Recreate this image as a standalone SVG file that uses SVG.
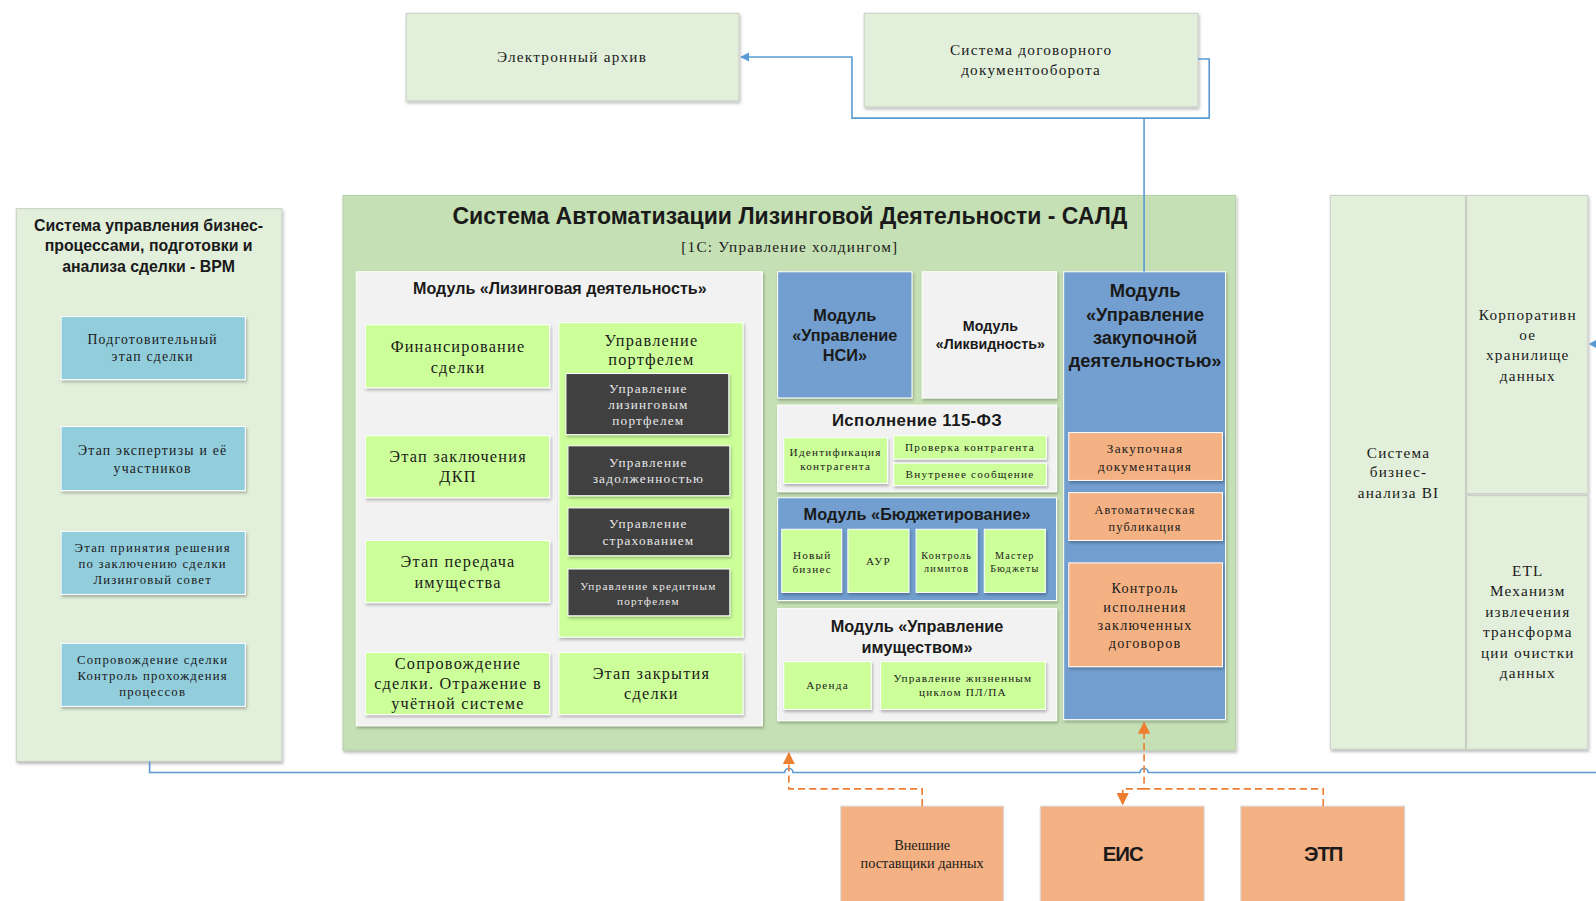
<svg xmlns="http://www.w3.org/2000/svg" width="1596" height="901" viewBox="0 0 1596 901">
<defs>
<filter id="sh" x="-10%" y="-10%" width="130%" height="130%">
<feDropShadow dx="1" dy="2" stdDeviation="1.5" flood-color="#000" flood-opacity="0.28"/>
</filter>
<marker id="ab" viewBox="0 0 10 10" refX="9" refY="5" markerWidth="9" markerHeight="9" markerUnits="userSpaceOnUse" orient="auto">
<path d="M0,0 L10,5 L0,10 z" fill="#5b9bd5"/>
</marker>
<marker id="ao" viewBox="0 0 10 10" refX="9" refY="5" markerWidth="12" markerHeight="12" markerUnits="userSpaceOnUse" orient="auto">
<path d="M0,0 L10,5 L0,10 z" fill="#ed7d31"/>
</marker>
<style>
.pale{fill:#e2efda;stroke:#c9cfc5;stroke-width:1;filter:url(#sh)}
.sald{fill:#c5e0b4;stroke:#b8cfa8;stroke-width:1;filter:url(#sh)}
.gray{fill:#f2f2f2;stroke:#ffffff;stroke-width:1;filter:url(#sh)}
.blue{fill:#729fcf;stroke:#ffffff;stroke-width:1;filter:url(#sh)}
.lime{fill:#ccff99;stroke:#ffffff;stroke-width:1;filter:url(#sh)}
.cyan{fill:#92cddc;stroke:#ffffff;stroke-width:1;filter:url(#sh)}
.dark{fill:#404040;stroke:#ffffff;stroke-width:1;filter:url(#sh)}
.org{fill:#f4b183;stroke:#ffffff;stroke-width:1;filter:url(#sh)}
.orgb{fill:#f4b183;stroke:#d9d9d9;stroke-width:1}
text{text-anchor:middle;fill:#1a1a1a}
.s{font-family:"Liberation Serif","DejaVu Serif",serif;letter-spacing:1.2px}
.b{font-family:"Liberation Sans","DejaVu Sans",sans-serif;font-weight:bold}
.w{fill:#e8e8e8}
.cb{fill:none;stroke:#5b9bd5;stroke-width:1.6}
.co{fill:none;stroke:#ed7d31;stroke-width:1.6;stroke-dasharray:7,4}
</style>
</defs>
<rect width="1596" height="901" fill="#ffffff"/>
<g transform="scale(1.01786)">

<g id="archive">
<rect class="pale" x="399" y="13" width="327" height="86"/>
<text class="s" x="562" y="61" font-size="15" letter-spacing="1.8">Электронный архив</text>
</g>
<g id="sdd">
<rect class="pale" x="849" y="13" width="328" height="92"/>
<text class="s" x="1013" y="54" font-size="15">Система договорного</text>
<text class="s" x="1013" y="74" font-size="15">документооборота</text>
</g>

<g id="bpm">
<rect class="pale" x="16" y="205" width="261" height="543"/>
<text class="b" x="146" y="227" font-size="15.6">Система управления бизнес-</text>
<text class="b" x="146" y="247" font-size="15.6">процессами, подготовки и</text>
<text class="b" x="146" y="267" font-size="15.6">анализа сделки - BPM</text>
<g id="bpm1"><rect class="cyan" x="60" y="311" width="181" height="62"/>
<text class="s" x="150" y="338" font-size="13.5">Подготовительный</text>
<text class="s" x="150" y="355" font-size="13.5">этап сделки</text></g>
<g id="bpm2"><rect class="cyan" x="60" y="419" width="181" height="63"/>
<text class="s" x="150" y="447" font-size="13.5">Этап экспертизы и её</text>
<text class="s" x="150" y="465" font-size="13.5">участников</text></g>
<g id="bpm3"><rect class="cyan" x="60" y="522" width="181" height="62"/>
<text class="s" x="150" y="542" font-size="12.5">Этап принятия решения</text>
<text class="s" x="150" y="558" font-size="12.5">по заключению сделки</text>
<text class="s" x="150" y="574" font-size="12.5">Лизинговый совет</text></g>
<g id="bpm4"><rect class="cyan" x="60" y="632" width="181" height="62"/>
<text class="s" x="150" y="652" font-size="12.5">Сопровождение сделки</text>
<text class="s" x="150" y="668" font-size="12.5">Контроль прохождения</text>
<text class="s" x="150" y="684" font-size="12.5">процессов</text></g>
</g>

<g id="sald">
<rect class="sald" x="337" y="192" width="877" height="545"/>
<text class="b" x="776" y="220" font-size="22.6">Система Автоматизации Лизинговой Деятельности - САЛД</text>
<text class="s" x="776" y="248" font-size="15">[1С: Управление холдингом]</text>
</g>

<g id="leasing">
<rect class="gray" x="350" y="267" width="399" height="446"/>
<text class="b" x="550" y="289" font-size="15.8">Модуль «Лизинговая деятельность»</text>
<g id="fin"><rect class="lime" x="359" y="319" width="181" height="62"/>
<text class="s" x="450" y="346" font-size="16">Финансирование</text>
<text class="s" x="450" y="366" font-size="16">сделки</text></g>
<g id="portfolio"><rect class="lime" x="549" y="317" width="181" height="309"/>
<text class="s" x="640" y="340" font-size="16">Управление</text>
<text class="s" x="640" y="359" font-size="16">портфелем</text>
<g id="p1"><rect class="dark" x="556" y="367" width="160" height="60"/>
<text class="s w" x="637" y="386" font-size="13">Управление</text>
<text class="s w" x="637" y="402" font-size="13">лизинговым</text>
<text class="s w" x="637" y="418" font-size="13">портфелем</text></g>
<g id="p2"><rect class="dark" x="558" y="438" width="159" height="49"/>
<text class="s w" x="637" y="459" font-size="13">Управление</text>
<text class="s w" x="637" y="475" font-size="13">задолженностью</text></g>
<g id="p3"><rect class="dark" x="558" y="499" width="159" height="47"/>
<text class="s w" x="637" y="519" font-size="13">Управление</text>
<text class="s w" x="637" y="535" font-size="13">страхованием</text></g>
<g id="p4"><rect class="dark" x="558" y="559" width="159" height="46"/>
<text class="s w" x="637" y="580" font-size="11">Управление кредитным</text>
<text class="s w" x="637" y="594" font-size="11">портфелем</text></g>
</g>
<g id="dkp"><rect class="lime" x="359" y="428" width="181" height="61"/>
<text class="s" x="450" y="454" font-size="16">Этап заключения</text>
<text class="s" x="450" y="474" font-size="16">ДКП</text></g>
<g id="transfer"><rect class="lime" x="359" y="531" width="181" height="61"/>
<text class="s" x="450" y="557" font-size="16">Этап передача</text>
<text class="s" x="450" y="578" font-size="16">имущества</text></g>
<g id="support"><rect class="lime" x="359" y="641" width="181" height="61"/>
<text class="s" x="450" y="657" font-size="16">Сопровождение</text>
<text class="s" x="450" y="677" font-size="16">сделки. Отражение в</text>
<text class="s" x="450" y="697" font-size="16">учётной системе</text></g>
<g id="closing"><rect class="lime" x="549" y="641" width="181" height="61"/>
<text class="s" x="640" y="667" font-size="16">Этап закрытия</text>
<text class="s" x="640" y="687" font-size="16">сделки</text></g>
</g>

<g id="nsi"><rect class="blue" x="764" y="267" width="132" height="124"/>
<text class="b" x="830" y="315" font-size="16">Модуль</text>
<text class="b" x="830" y="335" font-size="16">«Управление</text>
<text class="b" x="830" y="355" font-size="16">НСИ»</text></g>
<g id="liquidity"><rect class="gray" x="906" y="267" width="132" height="124"/>
<text class="b" x="973" y="325" font-size="14">Модуль</text>
<text class="b" x="973" y="343" font-size="14">«Ликвидность»</text></g>

<g id="fz115"><rect class="gray" x="764" y="398" width="274" height="85"/>
<text class="b" x="901" y="419" font-size="16.5" letter-spacing="0.4">Исполнение 115-ФЗ</text>
<g id="ident"><rect class="lime" x="770" y="430" width="102" height="45"/>
<text class="s" x="821" y="448" font-size="11">Идентификация</text>
<text class="s" x="821" y="462" font-size="11">контрагента</text></g>
<g id="check"><rect class="lime" x="878" y="428" width="150" height="23"/>
<text class="s" x="953" y="443" font-size="11">Проверка контрагента</text></g>
<g id="internal"><rect class="lime" x="878" y="455" width="150" height="22"/>
<text class="s" x="953" y="470" font-size="11">Внутренее сообщение</text></g>
</g>

<g id="budget"><rect class="blue" x="764" y="489" width="274" height="101"/>
<text class="b" x="901" y="511" font-size="16">Модуль «Бюджетирование»</text>
<g id="b1"><rect class="lime" x="768" y="520" width="59" height="62"/>
<text class="s" x="798" y="549" font-size="11">Новый</text>
<text class="s" x="798" y="563" font-size="11">бизнес</text></g>
<g id="b2"><rect class="lime" x="833" y="520" width="60" height="62"/>
<text class="s" x="863" y="555" font-size="11">АУР</text></g>
<g id="b3"><rect class="lime" x="900" y="520" width="60" height="62"/>
<text class="s" x="930" y="549" font-size="10">Контроль</text>
<text class="s" x="930" y="562" font-size="10">лимитов</text></g>
<g id="b4"><rect class="lime" x="967" y="520" width="60" height="62"/>
<text class="s" x="997" y="549" font-size="10">Мастер</text>
<text class="s" x="997" y="562" font-size="10">Бюджеты</text></g>
</g>

<g id="property"><rect class="gray" x="764" y="598" width="274" height="110"/>
<text class="b" x="901" y="621" font-size="16">Модуль «Управление</text>
<text class="b" x="901" y="642" font-size="16">имуществом»</text>
<g id="rent"><rect class="lime" x="770" y="650" width="86" height="47"/>
<text class="s" x="813" y="677" font-size="11">Аренда</text></g>
<g id="lifecycle"><rect class="lime" x="865" y="650" width="162" height="47"/>
<text class="s" x="946" y="670" font-size="11">Управление жизненным</text>
<text class="s" x="946" y="684" font-size="11">циклом ПЛ/ПА</text></g>
</g>

<g id="procurement"><rect class="blue" x="1045" y="267" width="159" height="440"/>
<text class="b" x="1125" y="292" font-size="18">Модуль</text>
<text class="b" x="1125" y="315" font-size="18">«Управление</text>
<text class="b" x="1125" y="338" font-size="18">закупочной</text>
<text class="b" x="1125" y="361" font-size="18">деятельностью»</text>
<g id="z1"><rect class="org" x="1050" y="425" width="151" height="47"/>
<text class="s" x="1125" y="445" font-size="13">Закупочная</text>
<text class="s" x="1125" y="463" font-size="13">документация</text></g>
<g id="z2"><rect class="org" x="1050" y="484" width="151" height="47"/>
<text class="s" x="1125" y="505" font-size="12">Автоматическая</text>
<text class="s" x="1125" y="522" font-size="12">публикация</text></g>
<g id="z3"><rect class="org" x="1050" y="553" width="151" height="102"/>
<text class="s" x="1125" y="583" font-size="14">Контроль</text>
<text class="s" x="1125" y="601" font-size="14">исполнения</text>
<text class="s" x="1125" y="619" font-size="14">заключенных</text>
<text class="s" x="1125" y="637" font-size="14">договоров</text></g>
</g>

<g id="bi"><rect class="pale" x="1307" y="192" width="133" height="544"/>
<text class="s" x="1374" y="450" font-size="15">Система</text>
<text class="s" x="1374" y="469" font-size="15">бизнес-</text>
<text class="s" x="1374" y="489" font-size="15">анализа BI</text></g>
<g id="dwh"><rect class="pale" x="1441" y="192" width="119" height="293"/>
<text class="s" x="1501" y="314" font-size="15">Корпоративн</text>
<text class="s" x="1501" y="334" font-size="15">ое</text>
<text class="s" x="1501" y="354" font-size="15">хранилище</text>
<text class="s" x="1501" y="374" font-size="15">данных</text></g>
<g id="etl"><rect class="pale" x="1441" y="487" width="119" height="249"/>
<text class="s" x="1501" y="566" font-size="15">ETL</text>
<text class="s" x="1501" y="586" font-size="15">Механизм</text>
<text class="s" x="1501" y="606" font-size="15">извлечения</text>
<text class="s" x="1501" y="626" font-size="15">трансформа</text>
<text class="s" x="1501" y="646" font-size="15">ции очистки</text>
<text class="s" x="1501" y="666" font-size="15">данных</text></g>

<g id="ext"><rect class="orgb" x="826" y="792" width="160" height="100"/>
<text x="906" y="835" font-size="14" font-family="'Liberation Serif','DejaVu Serif',serif">Внешние</text>
<text x="906" y="853" font-size="14" font-family="'Liberation Serif','DejaVu Serif',serif">поставщики данных</text></g>
<g id="eis"><rect class="orgb" x="1022" y="792" width="161" height="100"/>
<text class="b" x="1103" y="846" font-size="20" letter-spacing="-1">ЕИС</text></g>
<g id="etp"><rect class="orgb" x="1219" y="792" width="161" height="100"/>
<text class="b" x="1300" y="846" font-size="20" letter-spacing="-1">ЭТП</text></g>

<g id="connectors">
<path class="cb" d="M1177,58 H1188 V116 H837 V56 H728" marker-end="url(#ab)"/>
<path class="cb" d="M1124,116 V267"/>
<path class="cb" d="M147,748 V759 H771 a4,4 0 0 1 8,0 H1120 a4,4 0 0 1 8,0 H1568"/>
<polygon points="1561,338 1568,334 1568,342" fill="#5b9bd5"/>
<path class="co" d="M906,792 V775 H775 V740" marker-end="url(#ao)"/>
<path class="co" d="M1300,792 V775 H1124 V710" marker-end="url(#ao)"/>
<path class="co" d="M1124,775 H1103 V790" marker-end="url(#ao)"/>
</g>
</g>
</svg>
